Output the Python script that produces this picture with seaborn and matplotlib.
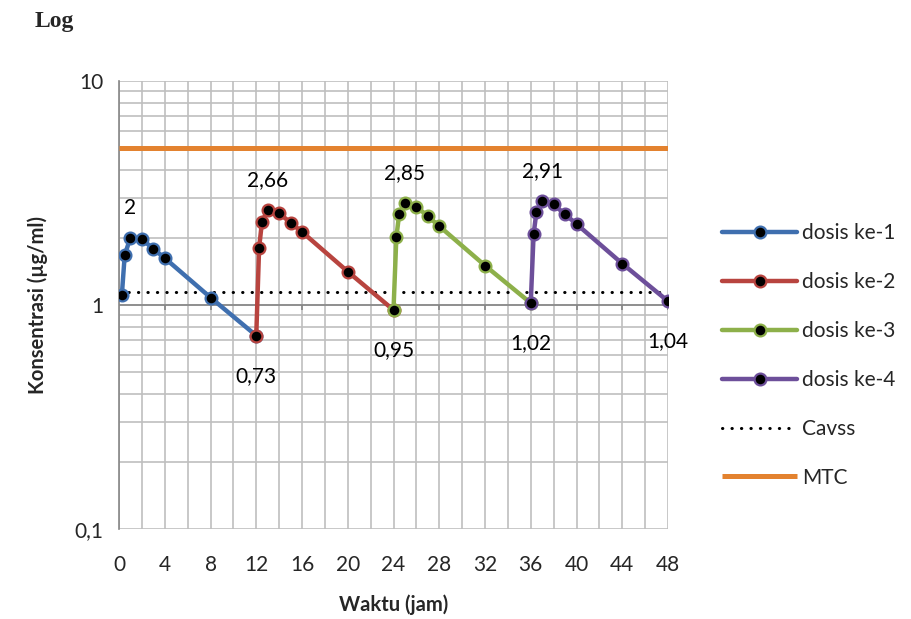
import matplotlib
matplotlib.use("Agg")
import matplotlib.pyplot as plt
from matplotlib.ticker import FixedLocator, LogLocator, NullFormatter
import seaborn as sns
import pandas as pd

# data
waktu_1 = [0.25, 0.5, 1, 2, 3, 4, 8, 12]
kons_1 = [1.11, 1.67, 2.0, 1.97, 1.78, 1.62, 1.08, 0.73]
waktu_2 = [12, 12.25, 12.5, 13, 14, 15, 16, 20, 24]
kons_2 = [0.73, 1.80, 2.35, 2.66, 2.57, 2.33, 2.12, 1.41, 0.95]
waktu_3 = [24, 24.25, 24.5, 25, 26, 27, 28, 32, 36]
kons_3 = [0.95, 2.01, 2.55, 2.85, 2.75, 2.49, 2.25, 1.50, 1.02]
waktu_4 = [36, 36.25, 36.5, 37, 38, 39, 40, 44, 48]
kons_4 = [1.02, 2.07, 2.61, 2.91, 2.81, 2.54, 2.30, 1.53, 1.04]
cavss = 1.14
mtc = 5

seri = ["dosis ke-1", "dosis ke-2", "dosis ke-3", "dosis ke-4"]
warna = ["#3F6FAF", "#B8443F", "#8DB04A", "#6D4F9A"]

# labelled points
label_t = [1, 12, 13, 24, 25, 36, 37, 48]
label_c = [2.0, 0.73, 2.66, 0.95, 2.85, 1.02, 2.91, 1.04]
label_txt = ["2", "0,73", "2,66", "0,95", "2,85", "1,02", "2,91", "1,04"]
label_atas = [True, False, True, False, True, False, True, False]

x_ticks = list(range(0, 49, 4))
y_ticks = [0.1, 1, 10]
y_labels = ["0,1", "1", "10"]

sns.set_style("white")
plt.rcParams["font.family"] = ["Lato", "DejaVu Sans"]

df = pd.concat([
    pd.DataFrame({"waktu": w, "kons": k, "dosis": s})
    for w, k, s in zip([waktu_1, waktu_2, waktu_3, waktu_4],
                       [kons_1, kons_2, kons_3, kons_4], seri)
])

fig = plt.figure(figsize=(9.11, 6.19), dpi=100)
ax = fig.add_axes([119 / 911, 1 - 529 / 619, 549 / 911, 448 / 619])

grid_c = "#BFBFBF"
ax.set_yscale("log")
ax.set_xlim(0, 48)
ax.set_ylim(0.1, 10)

for s, c in zip(seri, warna):
    sub = df[df["dosis"] == s]
    sns.lineplot(data=sub, x="waktu", y="kons", ax=ax, color=c, lw=3.2,
                 marker="o", markersize=8.5, markerfacecolor="black",
                 markeredgecolor=c, markeredgewidth=1.6, label=s,
                 sort=False, zorder=4)

ax.axhline(cavss, color="black", lw=2.2, linestyle=(0, (0.1, 3)),
           dash_capstyle="round", label="Cavss", zorder=3)
ax.axhline(mtc, color="#E3822F", lw=3.6, label="MTC", zorder=3,
           solid_capstyle="butt")

# axis line crossing at y=1 with its small tick marks
ax.axhline(1, color="#868686", lw=1.2, zorder=2)
ax.vlines(x_ticks[1:], 10 ** -0.024, 1, color="#868686", lw=1.2, zorder=2)

for t, c, txt, atas in zip(label_t, label_c, label_txt, label_atas):
    ax.annotate(txt, (t, c), xytext=(0, 30 if atas else -40),
                textcoords="offset pixels", ha="center", va="center",
                fontsize=15, color="black", zorder=5)

ax.xaxis.set_major_locator(FixedLocator(x_ticks))
ax.xaxis.set_minor_locator(FixedLocator(list(range(0, 49, 2))))
ax.set_yticks(y_ticks)
ax.set_yticklabels(y_labels)
ax.yaxis.set_minor_locator(LogLocator(base=10, subs=range(2, 10)))
ax.yaxis.set_minor_formatter(NullFormatter())
ax.grid(True, which="both", color=grid_c, lw=1.2)
ax.set_axisbelow(True)

for side in ["top", "right", "bottom"]:
    ax.spines[side].set_visible(False)
ax.spines["left"].set_color("#868686")
ax.spines["left"].set_linewidth(1.2)

ax.tick_params(axis="x", which="both", length=0, pad=19, labelsize=15)
ax.tick_params(axis="y", which="major", length=5, color="#868686",
               width=1.2, pad=6, labelsize=15)
ax.tick_params(axis="y", which="minor", length=0)

ax.set_xlabel("Waktu (jam)", fontsize=14.5, fontweight="bold", labelpad=14)
ax.set_ylabel("Konsentrasi (µg/ml)", fontsize=14.5, fontweight="bold",
              labelpad=19)

ax.legend(loc="upper left", bbox_to_anchor=(722 / 911, 1 - 223 / 619),
          bbox_transform=fig.transFigure, frameon=False, fontsize=15,
          handlelength=3.6, handletextpad=0.25, labelspacing=1.39,
          borderpad=0, borderaxespad=0)

fig.text(35 / 911, 1 - 22 / 619, "Log", family="Liberation Serif",
         fontweight="bold", fontsize=17, ha="left", va="center")

fig.savefig("out.png", dpi=100)
